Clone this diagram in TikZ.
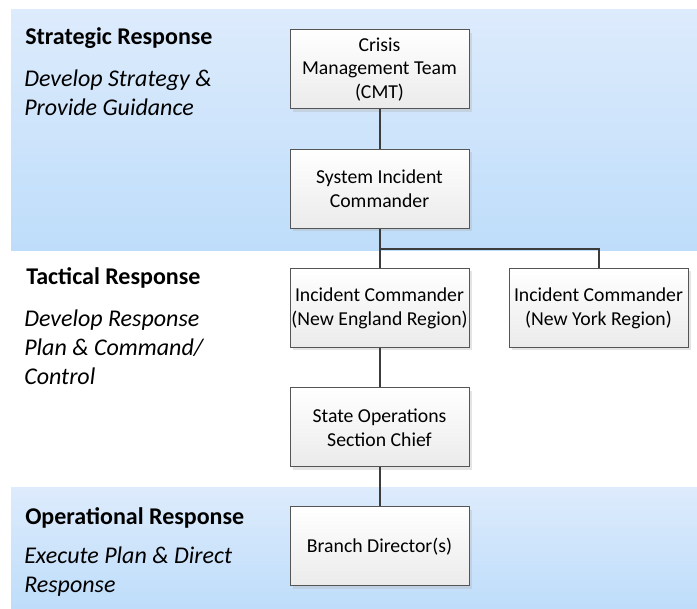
\documentclass[tikz,border=0pt]{standalone}
\usepackage{fontspec}
\setmainfont{Carlito}
\usetikzlibrary{shadows}
\definecolor{bandtop}{RGB}{221,235,252}
\definecolor{bandbot}{RGB}{190,221,250}
\definecolor{boxline}{RGB}{85,85,85}
\definecolor{conn}{RGB}{60,60,60}
\tikzset{
  orgbox/.style={draw=boxline, line width=0.75pt, top color=white, bottom color=black!8,
    minimum width=134.25pt, minimum height=59.25pt, inner sep=0pt, align=center,
    font=\fontsize{14.8}{17.8}\selectfont,
    drop shadow={shadow xshift=2.2pt, shadow yshift=-2.2pt, fill=black!30, opacity=0.35}},
  conline/.style={draw=conn, line width=1.5pt},
  lvltitle/.style={anchor=base west, inner sep=0pt, font=\fontsize{18}{21.6}\selectfont\bfseries},
  lvlsub/.style={anchor=base west, inner sep=0pt, font=\fontsize{18}{21.6}\selectfont\itshape}
}
\begin{document}
\begin{tikzpicture}[x=0.75pt,y=-0.75pt]
\useasboundingbox (0,0) rectangle (697,609);
\fill[white] (0,0) rectangle (697,609);
% bands
\shade[top color=bandtop, bottom color=bandbot] (11,10) rectangle (697,251);
\shade[top color=bandtop, bottom color=bandbot] (11,488) rectangle (697,609);
% boxes
\node[orgbox] (cmt) at (379.5,69.5) {Crisis\\Management Team\\(CMT)};
\node[orgbox] (sic) at (379.5,189) {System Incident\\Commander};
\node[orgbox] (ne) at (379.5,308) {Incident Commander\\(New England Region)};
\node[orgbox] (ny) at (598.5,308) {Incident Commander\\(New York Region)};
\node[orgbox] (soc) at (379.5,427.5) {State Operations\\Section Chief};
\node[orgbox] (bd) at (379.5,546.5) {Branch Director(s)};
\coordinate (bus) at (379.5,249);
% connectors
\draw[conline] (cmt.south) -- (sic.north);
\draw[conline] (sic.south) -- (ne.north);
\draw[conline] (bus) -| (ny.north);
\draw[conline] (ne.south) -- (soc.north);
\draw[conline] (soc.south) -- (bd.north);
% labels
\node[lvltitle] (t1) at (25,45) {Strategic Response};
\node[lvlsub] (s1a) at (24,87) {Develop Strategy \&};
\node[lvlsub] (s1b) at (24,116) {Provide Guidance};
\node[lvltitle] (t2) at (26,285) {Tactical Response};
\node[lvlsub] (s2a) at (24,327) {Develop Response};
\node[lvlsub] (s2b) at (24,356) {Plan \& Command/};
\node[lvlsub] (s2c) at (24,385) {Control};
\node[lvltitle] (t3) at (25,525) {Operational Response};
\node[lvlsub] (s3a) at (24,564) {Execute Plan \& Direct};
\node[lvlsub] (s3b) at (24,593) {Response};
\end{tikzpicture}
\end{document}
